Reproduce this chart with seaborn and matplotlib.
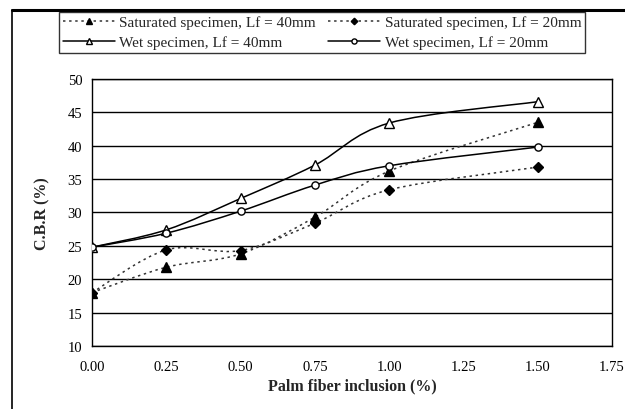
import numpy as np
import pandas as pd
import matplotlib
matplotlib.use("Agg")
import matplotlib.pyplot as plt
from matplotlib.path import Path
from matplotlib.patches import PathPatch
from matplotlib.lines import Line2D
from matplotlib.ticker import MultipleLocator
import seaborn as sns

# CBR test results versus palm fibre content
fiber = [0.00, 0.25, 0.50, 0.75, 1.00, 1.50]
sat_40 = [18.0, 21.8, 23.8, 29.3, 36.2, 43.5]
sat_20 = [18.0, 24.4, 24.3, 28.4, 33.4, 36.8]
wet_40 = [24.8, 27.4, 32.1, 37.1, 43.4, 46.6]
wet_20 = [24.8, 26.9, 30.2, 34.1, 37.0, 39.8]

labels = ["Saturated specimen, Lf = 40mm", "Saturated specimen, Lf = 20mm",
          "Wet specimen, Lf = 40mm", "Wet specimen, Lf = 20mm"]
x_ticks = ["0.00", "0.25", "0.50", "0.75", "1.00", "1.25", "1.50", "1.75"]

sns.set_style("white")
plt.rcParams["font.family"] = ["Liberation Serif", "DejaVu Serif"]

fig = plt.figure(figsize=(6.25, 4.10), dpi=100)
ax = fig.add_axes([92 / 625, 63 / 410, 520 / 625, 267 / 410])

series = [
    dict(y=sat_40, marker="^", mfc="black", ls=(0, (1.6, 2.4)), lc="#333333", ms=6.5),
    dict(y=sat_20, marker="D", mfc="black", ls=(0, (1.6, 2.4)), lc="#333333", ms=4.8),
    dict(y=wet_40, marker="^", mfc="white", ls="-", lc="black", ms=6.5),
    dict(y=wet_20, marker="o", mfc="white", ls="-", lc="black", ms=5.2),
]


def smooth_path(xs, ys):
    """Cubic Bezier path through the points (Catmull-Rom style smoothing)."""
    pts = np.column_stack([xs, ys]).astype(float)
    n = len(pts)
    verts = [pts[0]]
    codes = [Path.MOVETO]
    for i in range(n - 1):
        p0 = pts[i - 1] if i > 0 else pts[i]
        p1 = pts[i]
        p2 = pts[i + 1]
        p3 = pts[i + 2] if i + 2 < n else pts[i + 1]
        verts += [p1 + (p2 - p0) / 6.0, p2 - (p3 - p1) / 6.0, p2]
        codes += [Path.CURVE4] * 3
    return Path(verts, codes)


handles = []
for s, lab in zip(series, labels):
    df = pd.DataFrame({"fiber": fiber, "cbr": s["y"]})
    ax.add_patch(PathPatch(smooth_path(df["fiber"], df["cbr"]), fill=False,
                           edgecolor=s["lc"], linestyle=s["ls"], lw=1.1, zorder=3))
    sns.lineplot(data=df, x="fiber", y="cbr", ax=ax, linestyle="none",
                 marker=s["marker"], markersize=s["ms"], markerfacecolor=s["mfc"],
                 markeredgecolor="black", markeredgewidth=1.0, color="black", zorder=4)
    handles.append(Line2D([], [], color=s["lc"], linestyle=s["ls"], lw=1.1,
                          marker=s["marker"], markersize=s["ms"] - 1.5,
                          markerfacecolor=s["mfc"], markeredgecolor="black"))

ax.set_xlim(0, 1.75)
ax.set_ylim(10, 50)
ax.xaxis.set_minor_locator(MultipleLocator(0.05))
ax.yaxis.set_major_locator(MultipleLocator(5))
ax.yaxis.set_minor_locator(MultipleLocator(1))
ax.set_xticks(np.arange(0, 1.76, 0.25))
ax.set_xticklabels(x_ticks)
ax.grid(axis="y", which="major", color="black", lw=1.0)
ax.set_axisbelow(True)
for sp in ax.spines.values():
    sp.set_color("black")
    sp.set_linewidth(1.0)
ax.tick_params(which="major", direction="inout", length=8, width=1, labelsize=10.5,
               colors="black", pad=3)
ax.tick_params(which="minor", direction="in", length=4, width=0.9, colors="black")
ax.tick_params(axis="x", which="major", pad=6)
ax.set_xlabel("Palm fiber inclusion (%)", fontsize=11.5, fontweight="bold", labelpad=3)
ax.set_ylabel("C.B.R (%)", fontsize=11.5, fontweight="bold", labelpad=12)

order = [0, 2, 1, 3]
leg = fig.legend([handles[i] for i in order], [labels[i] for i in order], ncol=2,
                 loc="center", bbox_to_anchor=(322 / 625, 1 - 33.5 / 410),
                 frameon=True, fancybox=False, edgecolor="black", fontsize=11,
                 handlelength=3.4, handletextpad=0.3, columnspacing=0.8,
                 labelspacing=0.4, borderpad=0.25)
leg.get_frame().set_linewidth(1.0)

# page frame around the figure
fig.add_artist(Line2D([12 / 625, 12 / 625], [0, 1 - 11 / 410],
                      transform=fig.transFigure, color="black", lw=1.2))
fig.add_artist(Line2D([12 / 625, 1], [1 - 11 / 410, 1 - 11 / 410],
                      transform=fig.transFigure, color="black", lw=2.2))

fig.savefig("out.png", dpi=100)
